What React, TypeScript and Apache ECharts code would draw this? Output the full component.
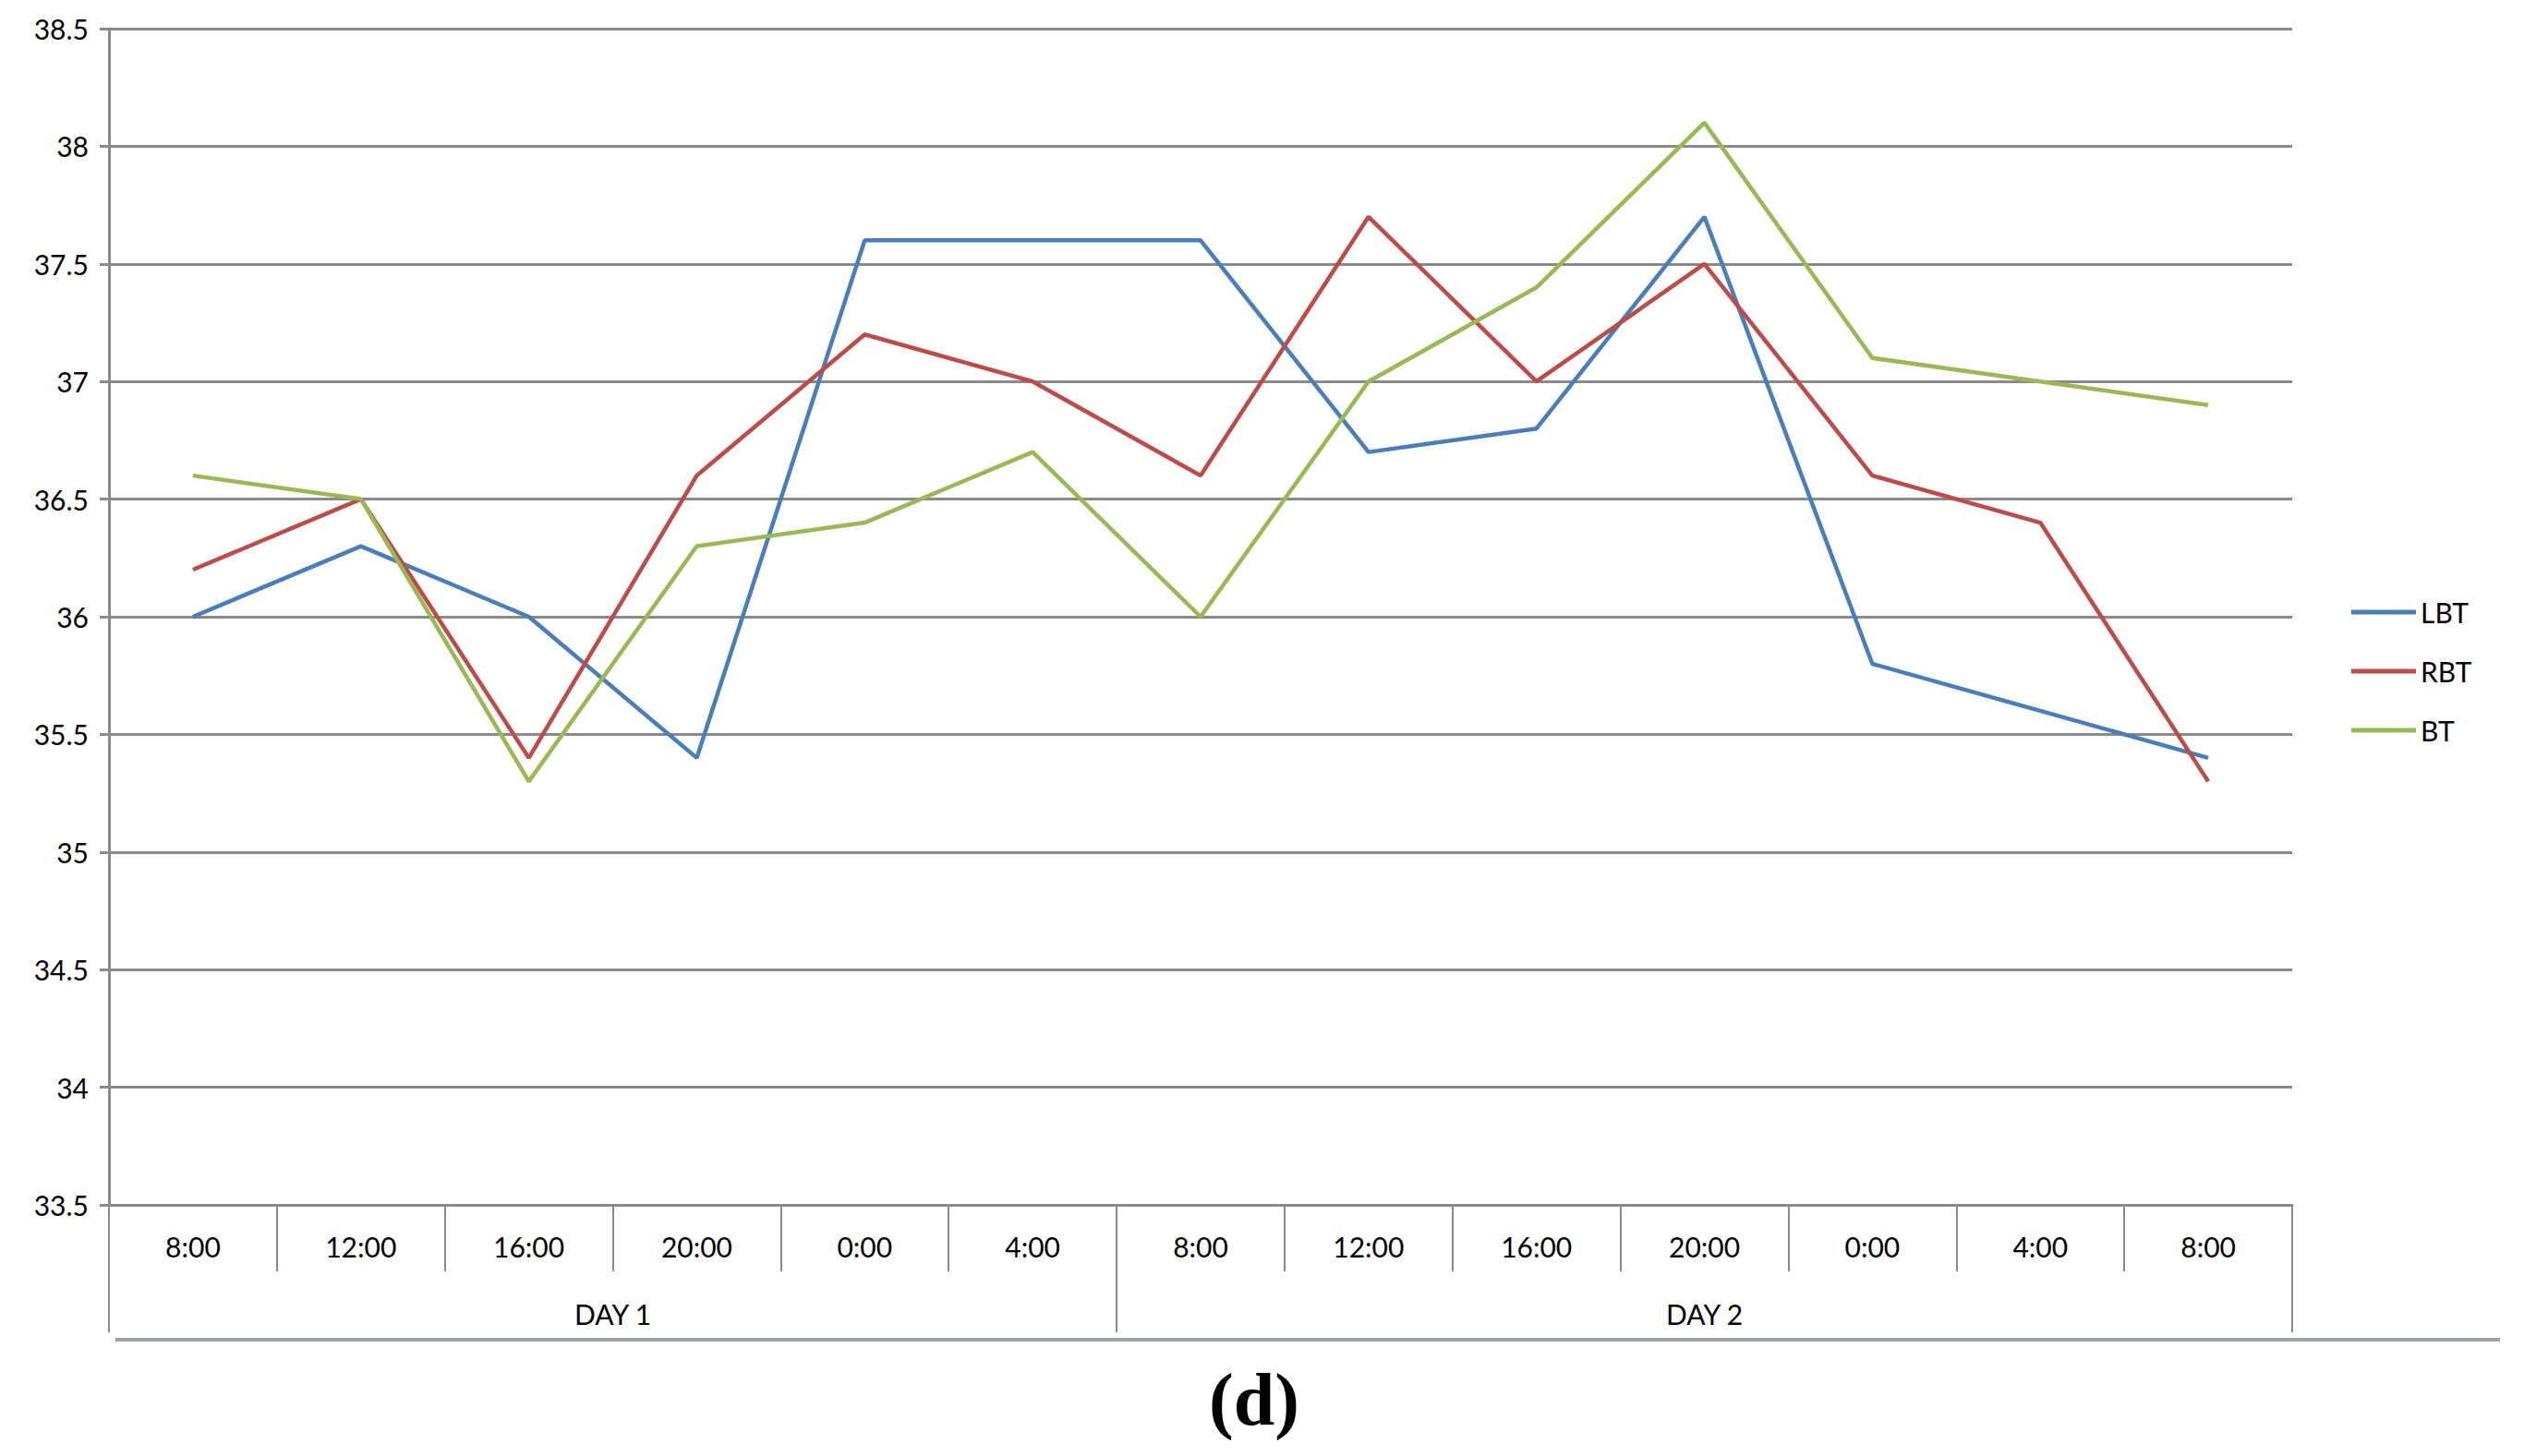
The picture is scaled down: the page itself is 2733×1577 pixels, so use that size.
import React, { useEffect, useRef } from "react";
import * as echarts from "echarts";

const times = ["8:00", "12:00", "16:00", "20:00", "0:00", "4:00", "8:00", "12:00", "16:00", "20:00", "0:00", "4:00", "8:00"];
const dayLabels = ["DAY 1", "DAY 2"];
const dayLabelPos = [3, 9.5];
const dayBounds = [0, 6, 13];
const LBT = [36.0, 36.3, 36.0, 35.4, 37.6, 37.6, 37.6, 36.7, 36.8, 37.7, 35.8, 35.6, 35.4];
const RBT = [36.2, 36.5, 35.4, 36.6, 37.2, 37.0, 36.6, 37.7, 37.0, 37.5, 36.6, 36.4, 35.3];
const BT = [36.6, 36.5, 35.3, 36.3, 36.4, 36.7, 36.0, 37.0, 37.4, 38.1, 37.1, 37.0, 36.9];

const FONT = "Lato, 'Open Sans', sans-serif";
const GRID_COLOR = "#8a8a8a";

export default function App() {
  const ref = useRef<HTMLDivElement>(null);
  useEffect(() => {
    if (!ref.current) return;
    const chart = echarts.init(ref.current, null, { renderer: "svg" });
    const mk = (name: string, data: number[], color: string) => ({
      name,
      type: "line",
      data,
      symbol: "none",
      xAxisIndex: 0,
      yAxisIndex: 0,
      lineStyle: { color, width: 4.5 },
      itemStyle: { color },
    });
    chart.setOption({
      animation: false,
      backgroundColor: "#ffffff",
      textStyle: { fontFamily: FONT },
      grid: { left: 118, right: 251, top: 31, bottom: 272, containLabel: false },
      legend: {
        orient: "vertical",
        left: 2541,
        top: 643,
        icon: "rect",
        itemWidth: 70,
        itemHeight: 5,
        itemGap: 34,
        textStyle: { fontFamily: FONT, fontSize: 30, color: "#000" },
        data: ["LBT", "RBT", "BT"],
      },
      xAxis: [
        {
          type: "category",
          data: times,
          boundaryGap: true,
          axisLine: { show: true, lineStyle: { color: GRID_COLOR, width: 3 } },
          axisTick: { show: true, length: 72, lineStyle: { color: GRID_COLOR, width: 2 } },
          axisLabel: { margin: 30, fontSize: 30, color: "#000", fontFamily: FONT },
          splitLine: { show: false },
        },
        {
          type: "value",
          min: 0,
          max: 13,
          position: "bottom",
          axisLine: { show: false },
          axisTick: { show: true, length: 138, customValues: dayBounds, lineStyle: { color: GRID_COLOR, width: 2 } },
          axisLabel: {
            margin: 103,
            fontSize: 30,
            color: "#000",
            fontFamily: FONT,
            customValues: dayLabelPos,
            formatter: (v: number) => {
              const i = dayLabelPos.indexOf(v);
              return i >= 0 ? dayLabels[i] : "";
            },
          },
          splitLine: { show: false },
        },
      ],
      yAxis: {
        type: "value",
        min: 33.5,
        max: 38.5,
        interval: 0.5,
        axisLine: { show: true, lineStyle: { color: GRID_COLOR, width: 3 } },
        axisTick: { show: true, length: 10, lineStyle: { color: GRID_COLOR, width: 3 } },
        axisLabel: { margin: 22, fontSize: 30, color: "#000", fontFamily: FONT },
        splitLine: { show: true, lineStyle: { color: GRID_COLOR, width: 3 } },
      },
      series: [mk("LBT", LBT, "#4a7ebb"), mk("RBT", RBT, "#be4b48"), mk("BT", BT, "#98b954")],
      graphic: [
        {
          type: "line",
          shape: { x1: 125, y1: 1451, x2: 2707, y2: 1451 },
          style: { stroke: "#9ea3a8", lineWidth: 4 },
        },
        {
          type: "text",
          x: 1358,
          y: 1516,
          style: {
            text: "(d)",
            font: "bold 80px 'Liberation Serif', 'Times New Roman', serif",
            fill: "#000",
            textAlign: "center",
            textVerticalAlign: "middle",
          },
        },
      ],
    });
    return () => chart.dispose();
  }, []);
  return <div ref={ref} style={{ width: 2733, height: 1577, position: "absolute", left: 0, top: 0 }} />;
}
